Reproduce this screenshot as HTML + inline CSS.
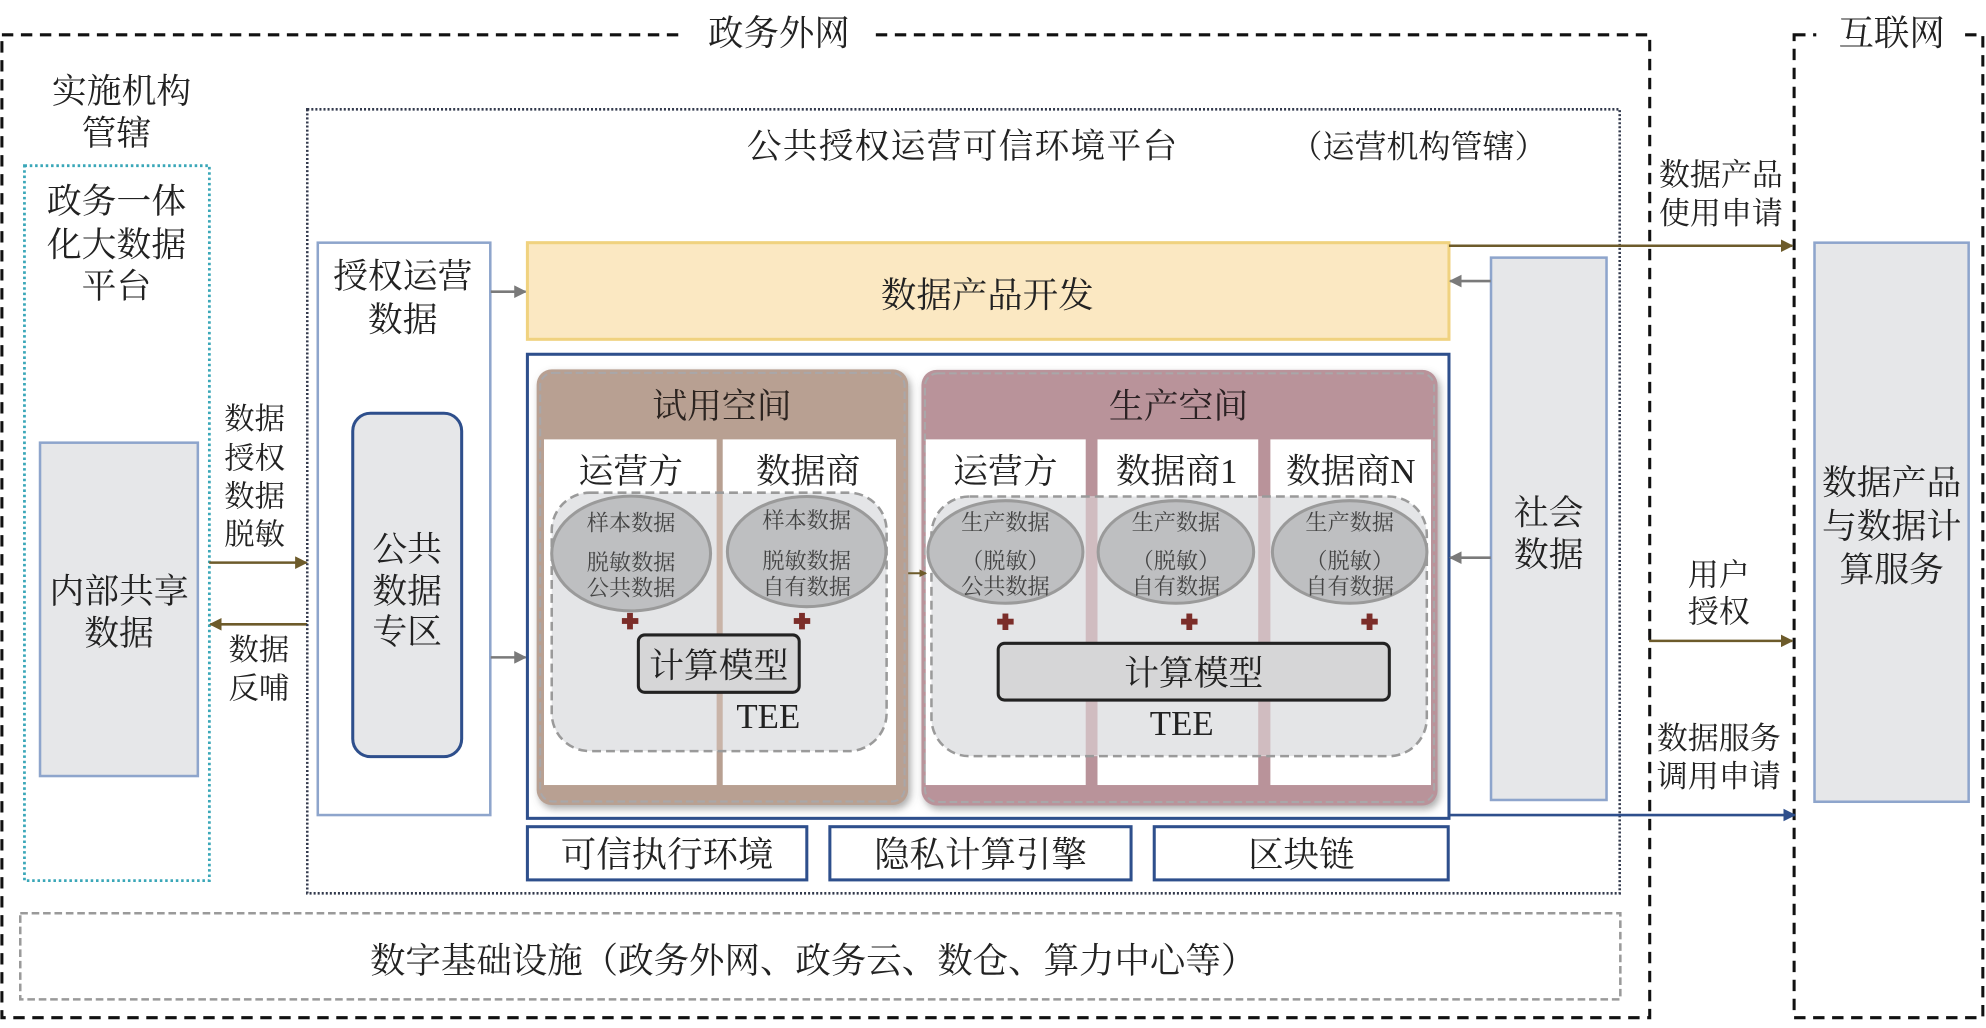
<!DOCTYPE html>
<html><head><meta charset="utf-8"><style>
html,body{margin:0;padding:0;background:#fff;}
svg{display:block;}
text{font-family:"Liberation Serif","Noto Serif CJK SC",serif;fill:#222;}
</style></head><body>
<svg width="1986" height="1028" viewBox="0 0 1568 811.63" preserveAspectRatio="none" xmlns="http://www.w3.org/2000/svg">
<defs>
<filter id="sh" x="-10%" y="-10%" width="125%" height="125%">
<feDropShadow dx="2" dy="3" stdDeviation="3" flood-color="#666" flood-opacity="0.55"/>
</filter>
<marker id="ao" markerWidth="10" markerHeight="10" refX="9" refY="5" orient="auto" markerUnits="userSpaceOnUse"><path d="M0,0 L10,5 L0,10 z" fill="#6d5b2b"/></marker>
<marker id="ag" markerWidth="10" markerHeight="10" refX="9" refY="5" orient="auto" markerUnits="userSpaceOnUse"><path d="M0,0 L10,5 L0,10 z" fill="#7a7a7a"/></marker>
<marker id="ab" markerWidth="10" markerHeight="10" refX="9" refY="5" orient="auto" markerUnits="userSpaceOnUse"><path d="M0,0 L10,5 L0,10 z" fill="#2e4f8c"/></marker>
<marker id="as" markerWidth="6" markerHeight="6" refX="5" refY="3" orient="auto" markerUnits="userSpaceOnUse"><path d="M0,0 L6,3 L0,6 z" fill="#6d5b2b"/></marker>
</defs>

<!-- outer boxes -->
<rect x="1.5" y="27.5" width="1301" height="776" fill="none" stroke="#111" stroke-width="2.4" stroke-dasharray="9 6"/>
<rect x="538" y="12" width="150" height="30" fill="#fff"/>
<text x="615" y="26" font-size="28" text-anchor="middle" dominant-baseline="central">政务外网</text>

<rect x="1416.5" y="27.5" width="149" height="776" fill="none" stroke="#111" stroke-width="2.4" stroke-dasharray="9 6"/>
<rect x="1434" y="12" width="112" height="30" fill="#fff"/>
<text x="1493.5" y="26" font-size="28" text-anchor="middle" dominant-baseline="central">互联网</text>

<!-- left -->
<text x="96" y="72.4" font-size="27.5" text-anchor="middle" dominant-baseline="central">实施机构</text>
<text x="92" y="105.3" font-size="27.5" text-anchor="middle" dominant-baseline="central">管辖</text>
<rect x="19.3" y="130.8" width="146" height="564.5" fill="none" stroke="#3aa7b8" stroke-width="2.2" stroke-dasharray="2 2.2"/>
<text x="92" y="159.2" font-size="27.5" text-anchor="middle" dominant-baseline="central">政务一体</text>
<text x="92" y="193.4" font-size="27.5" text-anchor="middle" dominant-baseline="central">化大数据</text>
<text x="92" y="226.3" font-size="27.5" text-anchor="middle" dominant-baseline="central">平台</text>
<rect x="31.6" y="349.5" width="124.6" height="263.2" fill="#e6e7e9" stroke="#8ea5cc" stroke-width="2"/>
<text x="94" y="467" font-size="27.5" text-anchor="middle" dominant-baseline="central">内部共享</text>
<text x="94" y="500" font-size="27.5" text-anchor="middle" dominant-baseline="central">数据</text>

<text x="201" y="331" font-size="24" text-anchor="middle" dominant-baseline="central">数据</text>
<text x="201" y="362" font-size="24" text-anchor="middle" dominant-baseline="central">授权</text>
<text x="201" y="392" font-size="24" text-anchor="middle" dominant-baseline="central">数据</text>
<text x="201" y="422" font-size="24" text-anchor="middle" dominant-baseline="central">脱敏</text>
<line x1="165.2" y1="444.2" x2="242" y2="444.2" stroke="#6d5b2b" stroke-width="2" marker-end="url(#ao)"/>
<line x1="242.6" y1="492.9" x2="166" y2="492.9" stroke="#6d5b2b" stroke-width="2" marker-end="url(#ao)"/>
<text x="204.4" y="513.2" font-size="24" text-anchor="middle" dominant-baseline="central">数据</text>
<text x="204.4" y="543.5" font-size="24" text-anchor="middle" dominant-baseline="central">反哺</text>

<!-- platform -->
<rect x="242.6" y="86.3" width="1036.2" height="619" fill="none" stroke="#333a4d" stroke-width="2" stroke-dasharray="1.6 1.6"/>
<text x="760" y="115.8" font-size="27.5" letter-spacing="0.9" text-anchor="middle" dominant-baseline="central">公共授权运营可信环境平台</text>
<text x="1120" y="115.8" font-size="25.3" text-anchor="middle" dominant-baseline="central">（运营机构管辖）</text>

<rect x="250.9" y="191.6" width="136.2" height="451.9" fill="#fff" stroke="#8ea5cc" stroke-width="2"/>
<text x="318" y="218.4" font-size="27.5" text-anchor="middle" dominant-baseline="central">授权运营</text>
<text x="318" y="252.6" font-size="27.5" text-anchor="middle" dominant-baseline="central">数据</text>
<rect x="278.5" y="326.3" width="86" height="271.1" rx="14" fill="#e6e7e9" stroke="#2e4f8c" stroke-width="2.4"/>
<text x="321.5" y="434" font-size="27.5" text-anchor="middle" dominant-baseline="central">公共</text>
<text x="321.5" y="467" font-size="27.5" text-anchor="middle" dominant-baseline="central">数据</text>
<text x="321.5" y="499" font-size="27.5" text-anchor="middle" dominant-baseline="central">专区</text>
<line x1="387.5" y1="230.3" x2="415" y2="230.3" stroke="#7a7a7a" stroke-width="2" marker-end="url(#ag)"/>
<line x1="387.5" y1="519" x2="415" y2="519" stroke="#7a7a7a" stroke-width="2" marker-end="url(#ag)"/>

<rect x="416.4" y="191.6" width="727.6" height="76.3" fill="#fbe8c2" stroke="#f0d27f" stroke-width="2.4"/>
<text x="779.5" y="232.9" font-size="28" text-anchor="middle" dominant-baseline="central">数据产品开发</text>

<rect x="416.4" y="279.7" width="727.6" height="366.4" fill="#fff" stroke="#2e4f8c" stroke-width="2.4"/>

<!-- trial space -->
<rect x="423.7" y="291.6" width="293.3" height="344" rx="12" fill="#b8a092" filter="url(#sh)"/>
<rect x="426.5" y="294.4" width="287.7" height="338.4" rx="10" fill="none" stroke="#a9a7a9" stroke-width="1.6" stroke-dasharray="6 3"/>
<text x="570" y="321" font-size="27.5" text-anchor="middle" dominant-baseline="central" style="fill:#2c2420">试用空间</text>
<rect x="429.5" y="346.9" width="136.3" height="272.9" fill="#fff"/>
<rect x="570.6" y="346.9" width="136.8" height="272.9" fill="#fff"/>
<text x="498" y="372.4" font-size="27.5" text-anchor="middle" dominant-baseline="central">运营方</text>
<text x="638" y="372.4" font-size="27.5" text-anchor="middle" dominant-baseline="central">数据商</text>
<rect x="435.6" y="389" width="264.4" height="204" rx="30" fill="#e4e5e7"/>
<rect x="565.8" y="389.5" width="4.8" height="203" fill="#c9b4a8"/>
<rect x="435.6" y="389" width="264.4" height="204" rx="30" fill="none" stroke="#9a9a9a" stroke-width="2" stroke-dasharray="7 4"/>

<!-- production space -->
<rect x="727.5" y="292" width="407.5" height="344" rx="12" fill="#b9939a" filter="url(#sh)"/>
<rect x="730.3" y="294.8" width="401.9" height="338.4" rx="10" fill="none" stroke="#a9a7a9" stroke-width="1.6" stroke-dasharray="6 3"/>
<text x="930.5" y="321" font-size="27.5" text-anchor="middle" dominant-baseline="central" style="fill:#2c2224">生产空间</text>
<rect x="730.9" y="346.9" width="126.3" height="272.9" fill="#fff"/>
<rect x="866.5" y="346.9" width="126.9" height="272.9" fill="#fff"/>
<rect x="1003" y="346.9" width="126.8" height="272.9" fill="#fff"/>
<text x="793.8" y="372.4" font-size="27.5" text-anchor="middle" dominant-baseline="central">运营方</text>
<text x="929" y="372.4" font-size="27.5" text-anchor="middle" dominant-baseline="central">数据商1</text>
<text x="1066.4" y="372.4" font-size="27.5" text-anchor="middle" dominant-baseline="central">数据商N</text>
<rect x="735.4" y="392" width="391.1" height="205" rx="30" fill="#e4e5e7"/>
<rect x="857.2" y="392.5" width="9.3" height="204" fill="#d0bcc0"/>
<rect x="993.4" y="392.5" width="9.6" height="204" fill="#d0bcc0"/>
<rect x="735.4" y="392" width="391.1" height="205" rx="30" fill="none" stroke="#9a9a9a" stroke-width="2" stroke-dasharray="7 4"/>

<!-- ellipses -->
<g fill="#bebfc1" stroke="#9a9a9a" stroke-width="2.4">
<ellipse cx="498.3" cy="437" rx="62.7" ry="45.3"/>
<ellipse cx="636.9" cy="435.5" rx="62.6" ry="43.5"/>
<ellipse cx="793.8" cy="435.8" rx="61.2" ry="40.5"/>
<ellipse cx="928.4" cy="435.8" rx="61.4" ry="40.5"/>
<ellipse cx="1065.6" cy="435.8" rx="61" ry="40.5"/>
</g>
<g font-size="17.5" text-anchor="middle" dominant-baseline="central">
<text x="498.3" y="413" style="fill:#444">样本数据</text>
<text x="498.3" y="444" style="fill:#444">脱敏数据</text>
<text x="498.3" y="464.3" style="fill:#444">公共数据</text>
<text x="636.9" y="411" style="fill:#444">样本数据</text>
<text x="636.9" y="443" style="fill:#444">脱敏数据</text>
<text x="636.9" y="463.3" style="fill:#444">自有数据</text>
<text x="793.8" y="412.6" style="fill:#444">生产数据</text>
<text x="793.8" y="443" style="fill:#444">（脱敏）</text>
<text x="793.8" y="463.2" style="fill:#444">公共数据</text>
<text x="928.4" y="412.6" style="fill:#444">生产数据</text>
<text x="928.4" y="443" style="fill:#444">（脱敏）</text>
<text x="928.4" y="463.2" style="fill:#444">自有数据</text>
<text x="1065.6" y="412.6" style="fill:#444">生产数据</text>
<text x="1065.6" y="443" style="fill:#444">（脱敏）</text>
<text x="1065.6" y="463.2" style="fill:#444">自有数据</text>
</g>

<!-- plus signs -->
<g fill="#7b2d29">
<rect x="491" y="488" width="13" height="4.6"/><rect x="495.1" y="483.9" width="4.6" height="13"/>
<rect x="626.7" y="488" width="13" height="4.6"/><rect x="630.9" y="483.9" width="4.6" height="13"/>
<rect x="787.3" y="488.5" width="13" height="4.6"/><rect x="791.5" y="484.4" width="4.6" height="13"/>
<rect x="932.5" y="488.5" width="13" height="4.6"/><rect x="936.7" y="484.4" width="4.6" height="13"/>
<rect x="1074.8" y="488.5" width="13" height="4.6"/><rect x="1079" y="484.4" width="4.6" height="13"/>
</g>

<!-- compute models -->
<rect x="504" y="501.3" width="127" height="45.3" rx="5" fill="#d6d6d7" stroke="#222" stroke-width="2.4"/>
<text x="567.5" y="526" font-size="27.5" text-anchor="middle" dominant-baseline="central">计算模型</text>
<text x="606.6" y="574.8" font-size="27.5" text-anchor="middle">TEE</text>
<rect x="788.1" y="507.9" width="308.8" height="44.8" rx="5" fill="#d6d6d7" stroke="#222" stroke-width="2.4"/>
<text x="942.5" y="531.6" font-size="27.5" text-anchor="middle" dominant-baseline="central">计算模型</text>
<text x="933" y="580.3" font-size="27.5" text-anchor="middle">TEE</text>

<line x1="717" y1="452.6" x2="731" y2="452.6" stroke="#6d5b2b" stroke-width="1.6" marker-end="url(#as)"/>

<!-- bottom platform boxes -->
<g fill="#fff" stroke="#2e4f8c" stroke-width="2.4">
<rect x="416.4" y="652.7" width="220.6" height="42"/>
<rect x="655.2" y="652.7" width="237.8" height="42"/>
<rect x="911.3" y="652.7" width="232.1" height="42"/>
</g>
<text x="526.7" y="674.5" font-size="28" text-anchor="middle" dominant-baseline="central">可信执行环境</text>
<text x="774.1" y="674.5" font-size="28" text-anchor="middle" dominant-baseline="central">隐私计算引擎</text>
<text x="1027.4" y="674.5" font-size="28" text-anchor="middle" dominant-baseline="central">区块链</text>

<!-- social data -->
<rect x="1177.2" y="203.4" width="91.2" height="428.2" fill="#e6e7e9" stroke="#8ea5cc" stroke-width="2"/>
<text x="1222.8" y="405" font-size="27.5" text-anchor="middle" dominant-baseline="central">社会</text>
<text x="1222.8" y="438.2" font-size="27.5" text-anchor="middle" dominant-baseline="central">数据</text>
<line x1="1177" y1="221.9" x2="1145" y2="221.9" stroke="#7a7a7a" stroke-width="2" marker-end="url(#ag)"/>
<line x1="1177" y1="440.3" x2="1145" y2="440.3" stroke="#7a7a7a" stroke-width="2" marker-end="url(#ag)"/>

<!-- right connectors -->
<line x1="1144" y1="194" x2="1415" y2="194" stroke="#6d5b2b" stroke-width="2" marker-end="url(#ao)"/>
<text x="1358.7" y="138.2" font-size="24.5" text-anchor="middle" dominant-baseline="central">数据产品</text>
<text x="1358.7" y="168.4" font-size="24.5" text-anchor="middle" dominant-baseline="central">使用申请</text>
<text x="1357" y="454" font-size="24.5" text-anchor="middle" dominant-baseline="central">用户</text>
<text x="1357" y="483" font-size="24.5" text-anchor="middle" dominant-baseline="central">授权</text>
<line x1="1302" y1="506" x2="1415" y2="506" stroke="#6d5b2b" stroke-width="2" marker-end="url(#ao)"/>
<text x="1357" y="583" font-size="24.5" text-anchor="middle" dominant-baseline="central">数据服务</text>
<text x="1357" y="613" font-size="24.5" text-anchor="middle" dominant-baseline="central">调用申请</text>
<line x1="1144" y1="643.5" x2="1417" y2="643.5" stroke="#2e4f8c" stroke-width="2" marker-end="url(#ab)"/>

<!-- service box -->
<rect x="1432.6" y="191.6" width="121.7" height="441.4" fill="#e6e7e9" stroke="#8ea5cc" stroke-width="2"/>
<text x="1493.5" y="381.4" font-size="27.5" text-anchor="middle" dominant-baseline="central">数据产品</text>
<text x="1493.5" y="415.8" font-size="27.5" text-anchor="middle" dominant-baseline="central">与数据计</text>
<text x="1493.5" y="450" font-size="27.5" text-anchor="middle" dominant-baseline="central">算服务</text>

<!-- infrastructure -->
<rect x="16" y="721" width="1263.3" height="68" fill="none" stroke="#9a9a9a" stroke-width="2" stroke-dasharray="6 3"/>
<text x="642" y="758.5" font-size="28" text-anchor="middle" dominant-baseline="central">数字基础设施（政务外网、政务云、数仓、算力中心等）</text>
</svg>
</body></html>
